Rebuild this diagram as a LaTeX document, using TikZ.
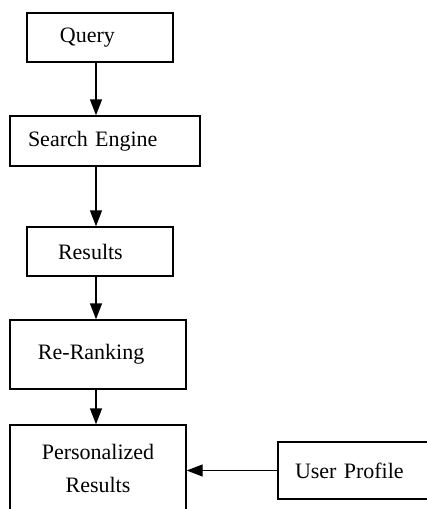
\documentclass[tikz,border=0pt]{standalone}
\usepackage{fontspec}
\setmainfont{Liberation Serif}
\usetikzlibrary{arrows.meta}
\tikzset{
	box/.style={draw, line width=0.7pt, align=left, font=\fontsize{11}{16.5}\selectfont},
	arr/.style={line width=0.7pt, -{Triangle[length=8pt, width=6pt]}}
}

\begin{document}
\begin{tikzpicture}[x=0.5pt, y=-0.5pt]
		\clip (0, 0) rectangle (427, 509);
		\node(query)[box, minimum height=24.5pt, inner xsep=16.5pt, text width=40pt] at (100, 37.5) {Query};
		\node(search)[box, minimum height=25pt, inner xsep=9pt, text width=77pt] at (105, 141) {Search Engine};
		\node(results)[box, minimum height=24.5pt, inner xsep=15.5pt, text width=42pt] at (100, 251.5) {Results};
		\node(rerank)[box, minimum height=34.5pt, inner xsep=14pt, text width=60pt] at (98, 354.5) {Re-Ranking};
		\node(personal)[box, align=center, minimum height=43pt, minimum width=88pt] at (98, 468) {Personalized\\Results};
		\node(profile)[box, minimum height=28.5pt, inner xsep=8.5pt, text width=63pt] at (358, 470.5) {User Profile};
		% arrows
		\draw[arr] ([xshift=-2pt]query.south) -- ([xshift=-2pt]query.south |- search.north);
		\draw[arr] ([xshift=-4.5pt]search.south) -- ([xshift=-4.5pt]search.south |- results.north);
		\draw[arr] ([xshift=-2pt]results.south) -- ([xshift=-2pt]results.south |- rerank.north);
		\draw[arr] ([xshift=-1pt]rerank.south) -- ([xshift=-1pt]rerank.south |- personal.north);
		\draw[arr] (profile.west) -- (profile.west -| personal.east);
\end{tikzpicture}
\end{document}
